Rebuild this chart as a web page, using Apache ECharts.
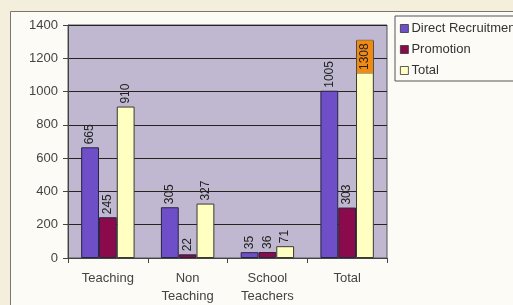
<!DOCTYPE html>
<html>
<head>
<meta charset="utf-8">
<script src="https://cdn.jsdelivr.net/npm/echarts@6/dist/echarts.min.js"></script>
<style>
  html, body { margin: 0; padding: 0; background: #f4efdc; }
  #chart { width: 513px; height: 305px; }
</style>
</head>
<body>
<div id="chart"></div>
<script>
// ===== data =====
const categories = ['Teaching', 'Non\nTeaching', 'School\nTeachers', 'Total'];
const directRecruitment = [665, 305, 35, 1005];
const promotion = [245, 22, 36, 303];
const totals = [910, 327, 71, 1308];
const yTicks = [0, 200, 400, 600, 800, 1000, 1200, 1400];

const FONT = '"Liberation Sans", Arial, sans-serif';

function initChart() {
  const chartDom = document.getElementById('chart');
  const myChart = echarts.init(chartDom, null, { renderer: 'canvas' });

  const topLabel = {
    show: true,
    position: 'top',
    rotate: 90,
    align: 'left',
    verticalAlign: 'middle',
    distance: 3,
    color: '#222',
    fontFamily: FONT,
    fontSize: 12
  };

  // last total has its label boxed in orange over the top of the bar
  const totalData = totals.map((v, i) => {
    if (i !== totals.length - 1) return v;
    return {
      value: v,
      label: {
        position: 'insideTop',
        align: 'right',
        distance: 0,
        backgroundColor: '#f08a12',
        padding: [2, 3],
        borderColor: '#555',
        borderWidth: 0.5
      }
    };
  });

  const option = {
    backgroundColor: '#f4efdc',
    animation: false,
    graphic: [{
      type: 'rect',
      z: -10,
      shape: { x: 10.5, y: 11.5, width: 520, height: 310 },
      style: { fill: '#fcfbf6', stroke: '#7a7670', lineWidth: 1 }
    }],
    legend: {
      orient: 'vertical',
      left: 395,
      top: 16,
      padding: [6, 30, 4, 5],
      itemGap: 8,
      itemWidth: 8,
      itemHeight: 8,
      borderColor: '#555',
      borderWidth: 1,
      backgroundColor: '#fcfbf6',
      textStyle: { fontFamily: FONT, fontSize: 13, color: '#333', padding: [0, 0, 0, -2] },
      icon: 'rect',
      itemStyle: { borderColor: '#333', borderWidth: 0.8 },
      data: ['Direct Recruitment', 'Promotion', 'Total']
    },
    grid: {
      left: 68,
      top: 25,
      right: 126,
      bottom: 47,
      show: true,
      backgroundColor: '#bfb8d0',
      borderColor: '#555',
      borderWidth: 1
    },
    xAxis: {
      type: 'category',
      data: categories,
      axisLine: { lineStyle: { color: '#444', width: 1 } },
      axisTick: { show: true, length: 5, lineStyle: { color: '#444' } },
      axisLabel: {
        margin: 11,
        fontFamily: FONT,
        fontSize: 13,
        lineHeight: 18,
        color: '#444'
      }
    },
    yAxis: {
      type: 'value',
      min: yTicks[0],
      max: yTicks[yTicks.length - 1],
      interval: 200,
      axisLine: { show: true, lineStyle: { color: '#444' } },
      axisTick: { show: true, length: 5, lineStyle: { color: '#444' } },
      axisLabel: {
        margin: 10,
        fontFamily: FONT,
        fontSize: 13,
        color: '#444',
        formatter: v => String(v)
      },
      splitLine: { show: true, lineStyle: { color: '#2a2220', width: 1 } }
    },
    series: [{
      name: 'Direct Recruitment',
      type: 'bar',
      data: directRecruitment,
      barGap: '0%',
      barCategoryGap: '33%',
      itemStyle: { color: '#6e4fc8', borderColor: '#2a2440', borderWidth: 1 },
      label: topLabel
    }, {
      name: 'Promotion',
      type: 'bar',
      data: promotion,
      itemStyle: { color: '#8a0a4c', borderColor: '#2a2440', borderWidth: 1 },
      label: topLabel
    }, {
      name: 'Total',
      type: 'bar',
      data: totalData,
      itemStyle: { color: '#ffffc2', borderColor: '#3a3830', borderWidth: 1 },
      label: topLabel
    }]
  };

  myChart.setOption(option);
  window.addEventListener('resize', () => myChart.resize());
}

initChart();
</script>
</body>
</html>
